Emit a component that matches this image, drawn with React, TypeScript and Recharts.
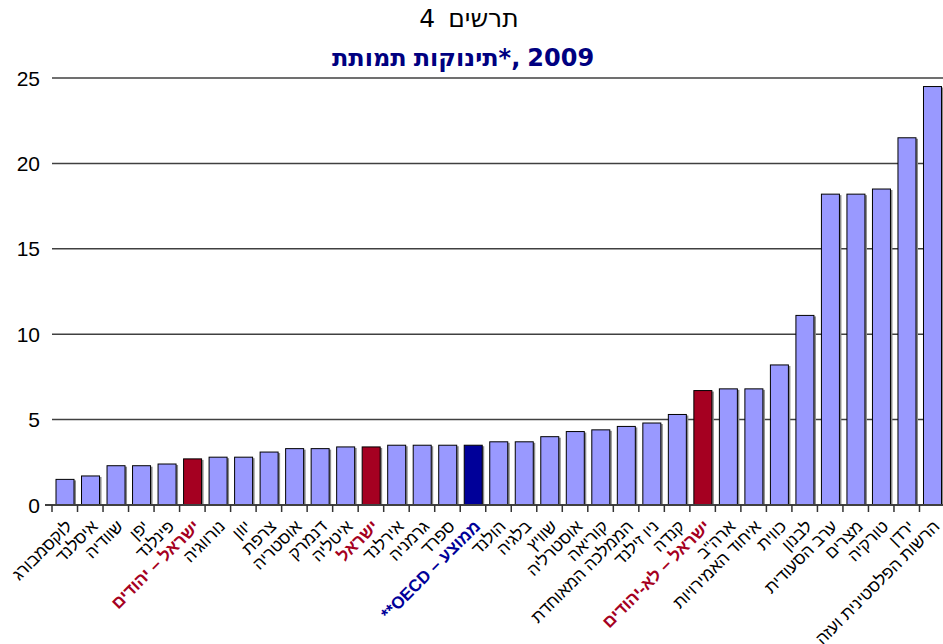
import React from 'react';
import { BarChart, Bar, XAxis, YAxis, CartesianGrid } from 'recharts';

const categories = [
  'לוקסמבורג',
  'איסלנד',
  'שוודיה',
  'יפן',
  'פינלנד',
  'ישראל – יהודים',
  'נורווגיה',
  'יוון',
  'צרפת',
  'אוסטריה',
  'דנמרק',
  'איטליה',
  'ישראל',
  'אירלנד',
  'גרמניה',
  'ספרד',
  '**OECD – ממוצע',
  'הולנד',
  'בלגיה',
  'שוויץ',
  'אוסטרליה',
  'קוריאה',
  'הממלכה המאוחדת',
  'ניו זילנד',
  'קנדה',
  'ישראל – לא-יהודים',
  'ארה"ב',
  'איחוד האמירויות',
  'כווית',
  'לבנון',
  'ערב הסעודית',
  'מצרים',
  'טורקיה',
  'ירדן',
  'הרשות הפלסטינית ועזה',
];

const infantMortality = [
  1.5, 1.7, 2.3, 2.3, 2.4, 2.7, 2.8, 2.8, 3.1, 3.3, 3.3, 3.4, 3.4, 3.5, 3.5, 3.5, 3.5,
  3.7, 3.7, 4.0, 4.3, 4.4, 4.6, 4.8, 5.3, 6.7, 6.8, 6.8, 8.2, 11.1, 18.2, 18.2, 18.5,
  21.5, 24.5,
];

const yTicks = [0, 5, 10, 15, 20, 25];
const israelCategories = ['ישראל – יהודים', 'ישראל', 'ישראל – לא-יהודים'];
const oecdCategory = '**OECD – ממוצע';
const titleLine1 = 'תרשים 4';
const titleLine2Words = ['תמותת', 'תינוקות*,', '2009'];

const data = categories.map((name, i) => ({ name, value: infantMortality[i] }));

const FONT = '"Liberation Sans", Arial, "DejaVu Sans", sans-serif';
const TITLE_FONT = '"DejaVu Sans", "Liberation Sans", sans-serif';
const CHART_W = 945;
const CHART_H = 644;
const Y_W = 52;
const TOP = 78;
const X_H = 139;
const BAND = (CHART_W - Y_W) / categories.length;

const BAR_COLOR = '#9999FF';
const ISRAEL_COLOR = '#A50021';
const OECD_COLOR = '#000099';

function colorFor(name: string) {
  if (israelCategories.includes(name)) return ISRAEL_COLOR;
  if (name === oecdCategory) return OECD_COLOR;
  return BAR_COLOR;
}

function XTick(props: any) {
  const { x, y, payload, index } = props;
  const name: string = payload.value;
  const isIsrael = israelCategories.includes(name);
  const isOecd = name === oecdCategory;
  const color = isIsrael ? ISRAEL_COLOR : isOecd ? OECD_COLOR : '#000';
  const weight = isIsrael || isOecd ? 'bold' : 'normal';
  const last = index === categories.length - 1;
  return (
    <g>
      <line x1={x - BAND / 2} x2={x - BAND / 2} y1={y} y2={y + 7} stroke="#333" strokeWidth={1.5} />
      {last && (
        <line x1={x + BAND / 2} x2={x + BAND / 2} y1={y} y2={y + 7} stroke="#333" strokeWidth={1.5} />
      )}
      <text
        transform={`translate(${x},${y + 14}) rotate(-45)`}
        textAnchor="end"
        dy="0.7em"
        fontSize={17}
        fontFamily={FONT}
        fill={color}
        fontWeight={weight}
      >
        {name}
      </text>
    </g>
  );
}

function YTick(props: any) {
  const { x, y, payload } = props;
  return (
    <g>
      {payload.value === 0 && (
        <line x1={x + 5} x2={x + 12} y1={y} y2={y} stroke="#404040" strokeWidth={2} />
      )}
      <text x={x} y={y} dy="0.36em" textAnchor="end" fontSize={21} fontFamily={FONT} fill="#000">
        {payload.value}
      </text>
    </g>
  );
}

function ShadowBar(props: any) {
  const { x, y, width, height, payload } = props;
  if (!height || height <= 0) return null;
  const fill = colorFor(payload?.name ?? '');
  return (
    <g>
      <rect x={x + 2} y={y + 1} width={width} height={height - 1} fill="#8a8a8a" />
      <rect x={x} y={y} width={width} height={height} fill={fill} stroke="#000" strokeWidth={1} />
    </g>
  );
}

function TitleRow(props: {
  words: string[];
  center: number;
  top: number;
  size: number;
  gap: number;
  bold?: boolean;
  color: string;
}) {
  const { words, center, top, size, gap, bold, color } = props;
  return (
    <div
      style={{
        position: 'absolute',
        left: 0,
        top,
        width: center * 2,
        display: 'flex',
        flexDirection: 'row',
        justifyContent: 'center',
        gap,
        direction: 'ltr',
        fontFamily: TITLE_FONT,
        fontSize: size,
        lineHeight: `${size}px`,
        fontWeight: bold ? 'bold' : 'normal',
        color,
        whiteSpace: 'nowrap',
        pointerEvents: 'none',
      }}
    >
      {words.map((w, i) => (
        <span key={i} style={{ display: 'inline-block' }}>
          {w}
        </span>
      ))}
    </div>
  );
}

export default function App() {
  return (
    <div
      style={{
        position: 'absolute',
        left: 0,
        top: 0,
        width: 943,
        height: 644,
        overflow: 'hidden',
        background: '#fff',
      }}
    >
      <BarChart
        width={CHART_W}
        height={CHART_H}
        data={data}
        margin={{ top: TOP, right: 0, bottom: 0, left: 0 }}
        barSize={18}
      >
        <CartesianGrid vertical={false} stroke="#404040" strokeWidth={1.5} />
        <YAxis
          domain={[0, 25]}
          ticks={yTicks}
          width={Y_W}
          axisLine={false}
          tickLine={false}
          tickSize={0}
          tickMargin={12}
          tick={<YTick />}
          interval={0}
        />
        <XAxis
          dataKey="name"
          height={X_H}
          interval={0}
          tickLine={false}
          tickSize={0}
          tickMargin={0}
          axisLine={{ stroke: '#404040', strokeWidth: 2 }}
          tick={<XTick />}
        />
        <Bar dataKey="value" isAnimationActive={false} shape={<ShadowBar />} />
      </BarChart>
      <div
        dir="rtl"
        style={{
          position: 'absolute',
          left: 0,
          top: 6,
          width: 938,
          textAlign: 'center',
          direction: 'rtl',
          fontFamily: TITLE_FONT,
          fontSize: 25,
          lineHeight: '25px',
          wordSpacing: 5,
          color: '#000',
          whiteSpace: 'nowrap',
          pointerEvents: 'none',
        }}
      >
        {titleLine1}
      </div>
      <TitleRow
        words={titleLine2Words}
        center={463}
        top={46}
        size={24}
        gap={7}
        bold
        color="#000080"
      />
    </div>
  );
}
